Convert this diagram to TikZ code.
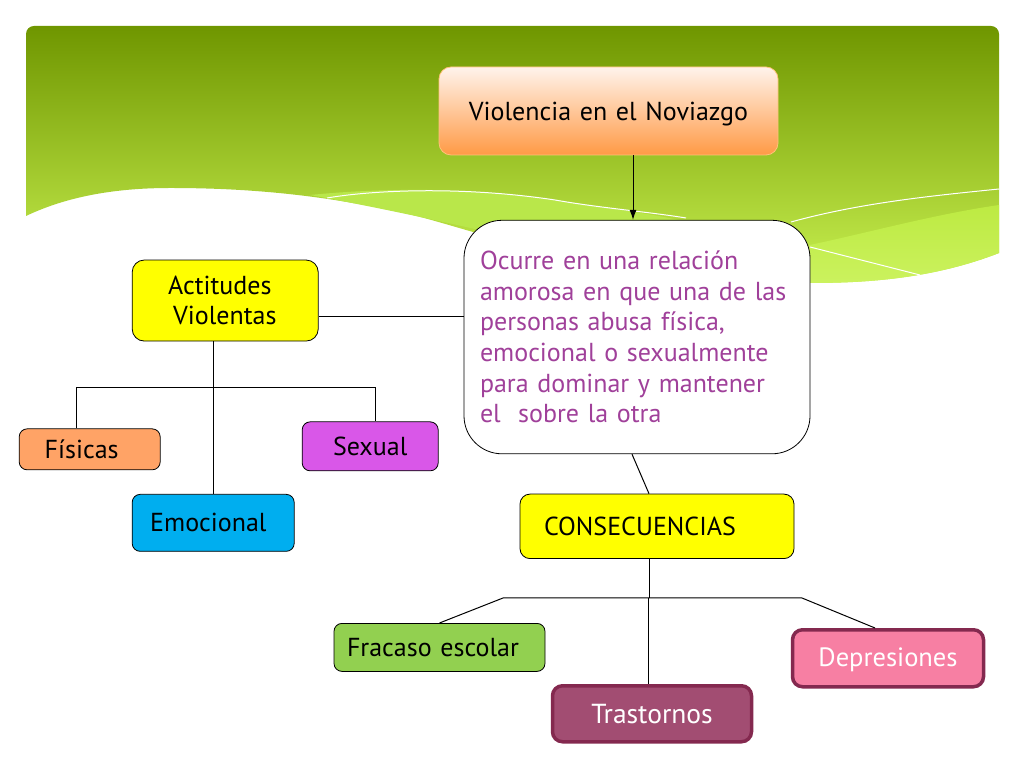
\documentclass[tikz,border=0pt]{standalone}
\usepackage{fontspec}
\setmainfont{PT Sans}
\usetikzlibrary{positioning,arrows.meta}
\definecolor{verdeA}{HTML}{6F9600}
\definecolor{verdeB}{HTML}{C8F050}
\definecolor{verdeC}{HTML}{B9E74A}
\definecolor{verdeD}{HTML}{BDEA42}
\definecolor{verdeE}{HTML}{CBF25E}
\definecolor{amarillo}{HTML}{FFFF00}
\definecolor{temaA}{HTML}{FFF3EC}
\definecolor{temaB}{HTML}{FF9A45}
\definecolor{temaC}{HTML}{FFC27A}
\definecolor{naranja}{HTML}{FFA366}
\definecolor{morado}{HTML}{D957E8}
\definecolor{celeste}{HTML}{00AEEF}
\definecolor{verdeF}{HTML}{92D050}
\definecolor{vino}{HTML}{A24D72}
\definecolor{vinoB}{HTML}{84294F}
\definecolor{rosa}{HTML}{F77FA3}
\definecolor{texto}{HTML}{A0409A}
\tikzset{
	caja/.style={draw, rounded corners=8pt, align=left, font=\fontsize{26}{30}\selectfont, inner ysep=0pt, line width=0.8pt},
	grueso/.style={caja, draw=vinoB, line width=3.5pt, text=white, align=center, rounded corners=10pt, font=\fontsize{26.5}{30}\selectfont},
	linea/.style={line width=1pt},
	brillo/.style={draw=white, line width=1pt}
}
\begin{document}
\begin{tikzpicture}[x=1pt, y=1pt]

	\useasboundingbox (0,0) rectangle (1024,768);

	\shade[top color=verdeA, bottom color=verdeB] (26,552) [rounded corners=8pt] -- (26,742) -- (999,742) [sharp corners] -- (999,515) .. controls (930,488) and (860,485) .. (810,485) .. controls (600,485) and (470,541) .. (400,556) .. controls (320,573) and (250,580) .. (170,580) .. controls (120,580) and (70,573) .. (26,552) -- cycle;

	\fill[verdeC] (310,573) .. controls (380,580) and (470,581) .. (555,568) .. controls (600,560) and (650,556) .. (700,543) -- (700,498) -- (475,539) .. controls (430,549) and (380,560) .. cycle;
	\shade[top color=verdeD, bottom color=verdeE] (800,521) .. controls (860,533) and (930,553) .. (999,563) -- (999,515) .. controls (930,488) and (860,485) .. (810,485) -- cycle;

	\draw[brillo] (327,570) .. controls (380,579) and (470,581) .. (555,568) .. controls (600,560) and (650,556) .. (686,550);
	\draw[brillo] (791,546) .. controls (860,565) and (930,572) .. (999,579);
	\draw[brillo] (810,521) -- (920,493);

	\node[caja, top color=temaA, bottom color=temaB, draw=temaC, rounded corners=12pt, minimum height=88pt, text width=339pt, inner xsep=0pt, align=center, text height=24pt] (tema) at (608.5,657) {Violencia en el Noviazgo};

	\node[caja, fill=white, rounded corners=38pt, below=64.5pt of tema, xshift=28.5pt, text=texto, minimum height=233.5pt, text width=314pt, inner xsep=16pt, font=\fontsize{26}{30.6}\selectfont] (defi) {Ocurre en una relación\\amorosa en que una de las\\personas abusa física,\\emocional o sexualmente\\para dominar y mantener\\el \ sobre la otra};

	\node[caja, fill=amarillo, left=145pt of defi, yshift=36.5pt, minimum height=81pt, text width=114pt, inner xsep=36pt, rounded corners=12pt] (actitudes) {Actitudes\\\hspace{5pt}Violentas};

	\node[caja, fill=naranja, below=87pt of actitudes, xshift=-135.5pt, minimum height=41pt, text width=90pt, inner xsep=25.5pt] (fisicas) {Físicas};
	\node[caja, fill=morado, below=80pt of actitudes, xshift=145pt, minimum height=49pt, text width=136pt, inner xsep=0pt, align=center] (sexual) {Sexual};
	\node[caja, fill=celeste, below=152.5pt of actitudes, xshift=-12pt, minimum height=57pt, text width=126pt, inner xsep=18pt] (emocional) {Emocional};

	\node[caja, fill=amarillo, below=39.5pt of defi, xshift=20pt, minimum height=64.5pt, text width=226pt, inner xsep=24pt, rounded corners=10pt] (consecuencias) {CONSECUENCIAS};

	\node[caja, fill=verdeF, below=64pt of consecuencias, xshift=-217.5pt, minimum height=48pt, text width=185pt, inner xsep=13pt] (fracaso) {Fracaso escolar};
	\node[grueso, fill=vino, below=125pt of consecuencias, xshift=-5pt, minimum height=56pt, text width=199pt, inner xsep=0pt, font=\fontsize{27.5}{30}\selectfont] (trastornos) {Trastornos};
	\node[grueso, fill=rosa, below=69pt of consecuencias, xshift=231pt, minimum height=57pt, text width=191pt, inner xsep=0pt, text height=22pt] (depresiones) {Depresiones};

	\draw[-{Latex[length=10pt,width=7pt]}, linea] ([xshift=24.5pt]tema.south) -- ([xshift=-4pt]defi.north);
	\draw[linea] ([yshift=-15.5pt]actitudes.east) -- ([yshift=-15.5pt]actitudes.east -| defi.west);
	\draw[linea] ([xshift=-5pt]defi.south) -- ([xshift=-8pt]consecuencias.north);

	\coordinate (ramaA) at (76,380);
	\coordinate (ramaB) at (375,380);
	\draw[linea] (emocional.north |- actitudes.south) -- (emocional.north);
	\draw[linea] (ramaA |- fisicas.north) -- (ramaA) -- (ramaB) -- (ramaB |- sexual.north);

	\coordinate (ramaC) at (503,170);
	\coordinate (ramaD) at (802,170);
	\draw[linea] ([xshift=-8pt]consecuencias.south) -- ([xshift=-8pt]consecuencias.south |- ramaC);
	\draw[linea] (fracaso.north) -- (ramaC) -- (ramaD) -- ([xshift=-13pt]depresiones.north);
	\draw[linea] ([xshift=-4pt]trastornos.north) -- ([xshift=-4pt]trastornos.north |- ramaC);

\end{tikzpicture}
\end{document}
